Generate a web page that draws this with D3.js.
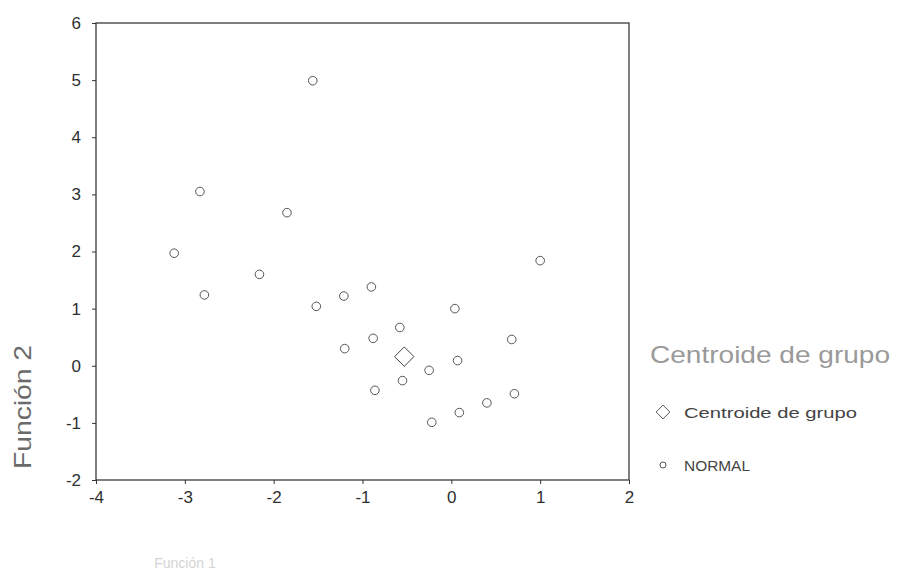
<!DOCTYPE html>
<html>
<head>
<meta charset="utf-8">
<script src="https://cdn.jsdelivr.net/npm/d3@7"></script>
<style>
  html, body { margin: 0; padding: 0; background: #fff; }
  svg { display: block; font-family: "Liberation Sans", Arial, sans-serif; }
</style>
</head>
<body>
<svg id="chart" width="906" height="582"></svg>
<script>
// Discriminant scores of the NORMAL group (Función 1, Función 2)
const normalF1 = [-3.12, -2.83, -2.78, -2.16, -1.85, -1.56, -1.52, -1.21, -0.90, -1.20, -0.88, -0.58,
                  -0.86, -0.55, -0.25, 0.04, 0.07, 0.68, 0.71, 0.40, 0.09, -0.22, 1.00];
const normalF2 = [1.97, 3.05, 1.24, 1.60, 2.68, 4.99, 1.04, 1.22, 1.38, 0.30, 0.48, 0.67,
                  -0.43, -0.26, -0.08, 1.00, 0.09, 0.46, -0.49, -0.65, -0.82, -0.99, 1.84];

// Group centroid
const centroidF1 = [-0.53];
const centroidF2 = [0.16];

// Axis ticks and labels
const xTicks = [-4, -3, -2, -1, 0, 1, 2];
const yTicks = [-2, -1, 0, 1, 2, 3, 4, 5, 6];
const xTitle = "Función 1";
const yTitle = "Función 2";
const legendTitle = "Centroide de grupo";
const legendItems = ["Centroide de grupo", "NORMAL"];

const svg = d3.select("#chart");

const x = d3.scaleLinear().domain([-4, 2]).range([96, 629]);
const y = d3.scaleLinear().domain([-2, 6]).range([480, 23]);

// Frame
svg.append("rect")
  .attr("x", x(-4)).attr("y", y(6))
  .attr("width", x(2) - x(-4)).attr("height", y(-2) - y(6))
  .attr("fill", "none").attr("stroke", "#2a2a2a").attr("stroke-width", 1.2);

// Axes (plain hyphen for negative labels)
const fmt = d => String(d);
const xAxis = svg.append("g")
  .attr("transform", `translate(0,${y(-2)})`)
  .call(d3.axisBottom(x).tickValues(xTicks).tickFormat(fmt).tickSize(4).tickPadding(7));
const yAxis = svg.append("g")
  .attr("transform", `translate(${x(-4)},0)`)
  .call(d3.axisLeft(y).tickValues(yTicks).tickFormat(fmt).tickSize(4).tickPadding(11));

[xAxis, yAxis].forEach(g => {
  g.select(".domain").remove();
  g.selectAll(".tick line").attr("stroke", "#333");
  g.selectAll(".tick text")
    .attr("fill", "#2f2f2f")
    .style("font-size", "17px")
    .style("font-family", "\"Liberation Sans\", Arial, sans-serif");
});

// Axis titles
svg.append("text")
  .attr("transform", "translate(31,407) rotate(-90)")
  .attr("text-anchor", "middle")
  .attr("fill", "#6a6a6a")
  .style("font-size", "24px")
  .attr("textLength", 124)
  .attr("lengthAdjust", "spacingAndGlyphs")
  .text(yTitle);

svg.append("text")
  .attr("x", 185).attr("y", 568)
  .attr("text-anchor", "middle")
  .attr("fill", "#d4d4d4")
  .style("font-size", "14px")
  .text(xTitle);

// NORMAL group points
const pts = normalF1.map((v, i) => ({ f1: v, f2: normalF2[i] }));
svg.append("g").selectAll("circle")
  .data(pts)
  .join("circle")
  .attr("cx", d => x(d.f1))
  .attr("cy", d => y(d.f2))
  .attr("r", 4.3)
  .attr("fill", "none")
  .attr("stroke", "#555")
  .attr("stroke-width", 1);

// Centroid marker
const diamond = d3.symbol().type(d3.symbolDiamond2).size(240);
svg.append("g").selectAll("path")
  .data(centroidF1.map((v, i) => ({ f1: v, f2: centroidF2[i] })))
  .join("path")
  .attr("d", diamond)
  .attr("transform", d => `translate(${x(d.f1)},${y(d.f2)})`)
  .attr("fill", "none")
  .attr("stroke", "#444")
  .attr("stroke-width", 1);

// Legend
const lg = svg.append("g").attr("transform", "translate(650,0)");
lg.append("text")
  .attr("x", 0).attr("y", 363)
  .attr("fill", "#9a9a9a")
  .style("font-size", "24px")
  .attr("textLength", 240)
  .attr("lengthAdjust", "spacingAndGlyphs")
  .text(legendTitle);

lg.append("path")
  .attr("d", d3.symbol().type(d3.symbolDiamond2).size(120))
  .attr("transform", "translate(13,412)")
  .attr("fill", "none").attr("stroke", "#555").attr("stroke-width", 1);
lg.append("text")
  .attr("x", 34).attr("y", 418)
  .attr("fill", "#444")
  .style("font-size", "15px")
  .attr("textLength", 173)
  .attr("lengthAdjust", "spacingAndGlyphs")
  .text(legendItems[0]);

lg.append("circle")
  .attr("cx", 13).attr("cy", 465).attr("r", 3)
  .attr("fill", "none").attr("stroke", "#555").attr("stroke-width", 1);
lg.append("text")
  .attr("x", 34).attr("y", 471)
  .attr("fill", "#444")
  .style("font-size", "15px")
  .attr("textLength", 66)
  .attr("lengthAdjust", "spacingAndGlyphs")
  .text(legendItems[1]);
</script>
</body>
</html>
